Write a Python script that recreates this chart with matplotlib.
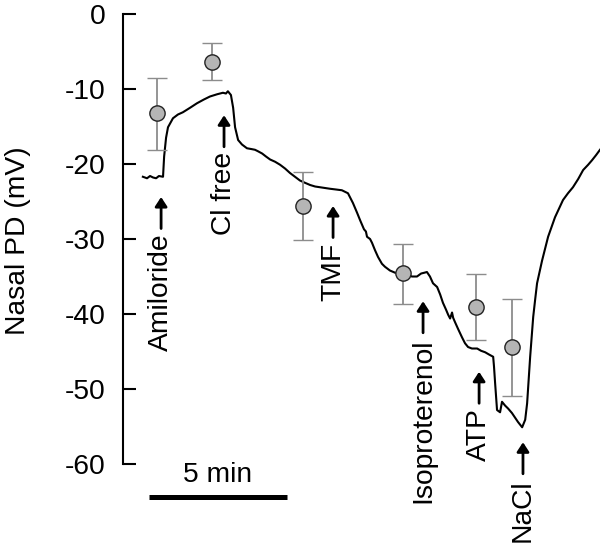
import matplotlib
matplotlib.use("Agg")
import matplotlib.pyplot as plt
import numpy as np

plt.rcParams['font.family'] = ['Liberation Sans', 'DejaVu Sans']

# Trace: time (min) and nasal PD (mV)
trace_t = [0.72, 0.87, 0.98, 1.09, 1.20, 1.30, 1.45, 1.49, 1.56, 1.63, 1.81, 1.99, 2.17, 2.43,
           2.68, 2.93, 3.15, 3.41, 3.62, 3.73, 3.80, 3.91, 3.99, 4.06, 4.17, 4.31, 4.49, 4.64,
           4.78, 4.89, 5.04, 5.18, 5.33, 5.51, 5.69, 5.87, 6.05, 6.23, 6.41, 6.59, 6.78, 6.96,
           7.14, 7.32, 7.50, 7.72, 7.93, 8.15, 8.33, 8.48, 8.59, 8.73, 8.80, 8.84, 8.95, 9.02,
           9.13, 9.24, 9.38, 9.49, 9.67, 9.86, 10.07, 10.29, 10.47, 10.65, 10.80, 10.91, 11.01,
           11.12, 11.23, 11.38, 11.49, 11.59, 11.70, 11.78, 11.85, 11.92, 11.96, 12.03, 12.14,
           12.28, 12.39, 12.50, 12.64, 12.83, 12.97, 13.12, 13.26, 13.41, 13.44, 13.48, 13.55,
           13.66, 13.73, 13.84, 13.95, 14.09, 14.20, 14.31, 14.46, 14.57, 14.64, 14.75, 14.86,
           14.93, 15.00, 15.18, 15.40, 15.65, 15.94, 16.12, 16.30, 16.49, 16.67, 16.85, 16.99,
           17.14, 17.28]
trace_v = [-21.7, -21.9, -21.6, -21.8, -21.9, -21.6, -21.7, -19.0, -16.5, -15.1, -13.9, -13.4,
           -13.1, -12.5, -11.9, -11.4, -11.0, -10.7, -10.5, -10.6, -10.3, -10.8, -12.5, -15.1,
           -16.8, -17.4, -17.9, -18.0, -18.1, -18.3, -18.6, -19.0, -19.4, -19.7, -20.1, -20.6,
           -21.2, -21.7, -22.2, -22.5, -22.8, -23.0, -23.1, -23.2, -23.3, -23.4, -23.5, -23.9,
           -25.2, -26.5, -27.5, -28.7, -29.0, -29.7, -30.0, -30.5, -31.5, -32.4, -33.3, -33.7,
           -34.2, -34.5, -34.7, -34.8, -35.0, -35.0, -34.6, -34.5, -34.4, -35.0, -35.9, -36.4,
           -37.4, -38.5, -39.4, -40.1, -40.6, -39.8, -40.5, -41.1, -42.0, -43.1, -43.9, -44.4,
           -44.6, -44.6, -44.9, -45.1, -45.4, -45.7, -47.0, -49.2, -52.8, -53.1, -51.7, -52.2,
           -52.6, -53.2, -53.8, -54.4, -55.1, -54.1, -51.9, -45.7, -40.4, -38.1, -35.9, -32.9,
           -29.7, -27.1, -24.8, -23.9, -23.1, -22.0, -20.8, -20.1, -19.5, -18.8, -18.1]

# Mean +/- error points
pt_t = [1.23, 3.22, 6.52, 10.14, 12.79, 14.09]
pt_mean = [-13.2, -6.4, -25.6, -34.5, -39.0, -44.4]
pt_upper = [-8.5, -3.9, -21.0, -30.6, -34.7, -38.0]
pt_lower = [-18.1, -8.8, -30.1, -38.7, -43.4, -50.9]

# Event markers
events = ['Amiloride', 'Cl free', 'TMF', 'Isoproterenol', 'ATP', 'NaCl']
event_t = [1.38, 3.66, 7.61, 10.87, 12.90, 14.49]
arrow_tip = [-24.4, -13.5, -25.6, -38.3, -47.7, -57.1]
arrow_len = 4.2
label_gap = 0.7

yticks = [0, -10, -20, -30, -40, -50, -60]
scale_start, scale_len = 0.94, 5.0
FS = 20.3

fig = plt.figure(figsize=(6.0, 5.52), dpi=100)
ax = fig.add_axes([123/600, 0, 477/600, 1])
ax.set_xlim(0, 17.28)
ax.set_ylim(-71.73, 1.867)

ax.plot(trace_t, trace_v, color='black', lw=1.5, zorder=3)

yerr = [np.array(pt_mean) - np.array(pt_lower), np.array(pt_upper) - np.array(pt_mean)]
ax.errorbar(pt_t, pt_mean, yerr=yerr, fmt='o', ms=11, mfc='#b5b5b5', mec='#222222', mew=1.0,
            ecolor='#8c8c8c', elinewidth=1.3, capsize=7, capthick=1.3, zorder=4)

for name, t, tip in zip(events, event_t, arrow_tip):
    ax.annotate('', xy=(t, tip), xytext=(t, tip - arrow_len),
                arrowprops=dict(arrowstyle='-|>,head_length=0.55,head_width=0.36', color='black',
                                lw=2.0, shrinkA=0, shrinkB=0, mutation_scale=10))
    ax.text(t, tip - arrow_len - label_gap, name, rotation=90, ha='center', va='top',
            fontsize=FS, color='black')

# scale bar
ax.plot([scale_start, scale_start + scale_len], [-64.4, -64.4], color='black', lw=3.6,
        solid_capstyle='butt', clip_on=False)
ax.text(scale_start + scale_len / 2, -61.5, '5 min', ha='center', va='center', fontsize=FS)

for s in ['top', 'right', 'bottom']:
    ax.spines[s].set_visible(False)
ax.spines['left'].set_bounds(-60, 0)
ax.spines['left'].set_linewidth(1.5)
ax.set_xticks([])
ax.set_yticks(yticks)
ax.set_yticklabels([str(v) for v in yticks])
ax.tick_params(axis='y', direction='in', length=9.5, width=1.5, pad=12.5, labelsize=FS)
ax.patch.set_alpha(0)

fig.text(18.5/600, 1 - 241/552, 'Nasal PD (mV)', rotation=90, ha='center', va='center',
         fontsize=FS)

fig.savefig('out.png', dpi=100)
